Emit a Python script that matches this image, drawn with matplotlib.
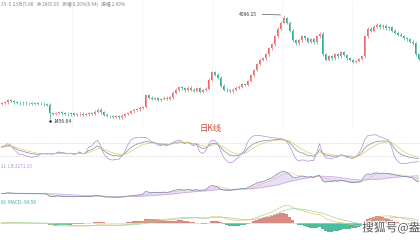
import numpy as np
import pandas as pd
import matplotlib
matplotlib.use("Agg")
from matplotlib import pyplot as plt
from matplotlib import patheffects

plt.rcParams["font.family"] = ["Noto Sans CJK SC", "DejaVu Sans"]

# daily closes (one candle per ~3 px)
closes = [
    1860, 1880, 1935, 1910, 1880, 1870, 1855, 1870, 1850, 1860, 1840, 1850, 1835, 1845, 1830,
    1820, 1600,
    1580, 1610, 1630, 1600, 1590, 1575, 1600, 1560, 1570, 1585, 1560, 1575, 1600, 1590, 1640, 1690, 1620,
    1560, 1530, 1520, 1510, 1525, 1500,
    1540, 1580, 1610, 1650, 1690, 1700, 1740, 1760,
    2060,
    2000, 1960, 1990, 1940, 1960, 2000, 1970, 2010,
    2120, 2200, 2260,
    2230, 2180, 2250, 2200, 2170, 2240, 2150, 2190, 2220,
    2450, 2640, 2580, 2500,
    2300, 2200, 2180, 2160, 2200,
    2250, 2280, 2340, 2320, 2420,
    2560, 2700, 2850, 2950,
    3000, 3100, 3250, 3350,
    3550, 3750, 3900, 4020,
    3900, 3700, 3450, 3380, 3450, 3550, 3500, 3420, 3480, 3400, 3550, 3620,
    3100, 2950, 3050, 3000, 3100, 3050, 3150, 3080, 3000, 2950, 2900, 2930, 2980, 3050,
    3550, 3750, 3700, 3800, 3850, 3780, 3820, 3760, 3780,
    3700, 3650, 3600, 3560, 3500, 3480, 3420, 3380, 3100, 2980,
]
first_open = 1840
low_mark = (16, 1456.64)
high_mark = (94, 4096.15)

header = "35 -5.23万(5.88   收 2665.05   涨幅 0.26%(6.64)   振幅 2.69%"
boll_label = "11  LB:2271.33"
macd_label = "81  MACD:-99.56"
title = "日K线"
watermark = "搜狐号@盎司"

up_color = "#e46c6c"
down_color = "#35ab91"

close = pd.Series(closes, dtype=float)
opens = close.shift(1).fillna(first_open)
highs = np.maximum(opens, close) + 35
lows = np.minimum(opens, close) - 35
highs[high_mark[0]] = high_mark[1]
lows[low_mark[0]] = low_mark[1]
n = len(close)
x = np.arange(n)

fig = plt.figure(figsize=(4.2, 2.4), dpi=100)
H = 240.0


def panel(top, bottom):
    ax = fig.add_axes([0, 1 - bottom / H, 1, (bottom - top) / H])
    ax.set_xlim(-0.5, n - 0.5)
    ax.axis("off")
    return ax


# main candle panel
ax = panel(0, 128)
ax.set_ylim(1226, 4477)
for xv in np.linspace(0, n, 7)[1:-1]:
    ax.axvline(xv, color="#f2f2f2", lw=0.5, zorder=0)
colors = np.where(close >= opens, up_color, down_color)
ax.vlines(x, lows, highs, colors=colors, lw=0.5)
ax.bar(x, (close - opens).abs().clip(lower=8), bottom=np.minimum(opens, close),
       width=0.6, color=colors, linewidth=0)
ax.annotate(f"{high_mark[1]:.2f}", xy=(high_mark[0], high_mark[1]),
            xytext=(high_mark[0] - 12, high_mark[1] + 20), fontsize=3.6,
            color="#333333", ha="center", va="center",
            arrowprops=dict(arrowstyle="-", color="#333333", lw=0.4))
ax.plot([low_mark[0]], [low_mark[1] - 60], marker="s", ms=0.8, color="#333333")
ax.text(low_mark[0] + 1.2, low_mark[1] - 60, f"{low_mark[1]:.2f}", fontsize=3.6,
        color="#333333", va="center")
fig.text(0.002, 1 - 4 / H, header, fontsize=3.4, color="#888888", va="center")

# KDJ panel
low9 = pd.Series(lows).rolling(9, min_periods=1).min()
high9 = pd.Series(highs).rolling(9, min_periods=1).max()
rsv = (close - low9) / (high9 - low9) * 100
k = rsv.ewm(com=2, adjust=False).mean()
d = k.ewm(com=2, adjust=False).mean()
j = 3 * k - 2 * d
ax2 = panel(134, 166)
ax2.set_ylim(-26, 122)
for lvl in (80, 20):
    ax2.axhline(lvl, color="#c4c4c4", lw=0.4, ls=(0, (2, 2)))
ax2.plot(x, j, color="#b58ad6", lw=0.5)
ax2.plot(x, k, color="#8a8a9a", lw=0.5)
ax2.plot(x, d, color="#cfd27a", lw=0.5)
fig.text(211 / 420, 1 - 129 / H, title, fontsize=6, color="#d04a3a", ha="center", va="center")

# band panel
ma = close.rolling(20, min_periods=1).mean()
ma5 = close.rolling(5, min_periods=1).mean()
ax3 = panel(166, 202)
ax3.set_ylim(1050, 4500)
ax3.fill_between(x, close, ma, color="#e8def6", lw=0)
ax3.plot(x, ma, color="#c9a2e0", lw=0.5)
ax3.plot(x, ma5, color="#f2b9a0", lw=0.4)
ax3.plot(x, close, color="#6a86a8", lw=0.5)
fig.text(0.002, 1 - 166 / H, boll_label, fontsize=3.4, color="#b98fd0", va="center")

# MACD panel
dif = close.ewm(span=12, adjust=False).mean() - close.ewm(span=26, adjust=False).mean()
dea = dif.ewm(span=9, adjust=False).mean()
hist = 2 * (dif - dea)
ax4 = panel(202, 240)
ax4.set_ylim(-420, 520)
ax4.bar(x, hist, width=0.8, color=np.where(hist >= 0, "#d98a84", "#4dbb9c"), linewidth=0)
ax4.plot(x, dif, color="#e6c26a", lw=0.5)
ax4.plot(x, dea, color="#93d7a9", lw=0.5)
ax4.axhline(0, color="#cfcfcf", lw=0.4)
fig.text(0.002, 1 - 203 / H, macd_label, fontsize=3.4, color="#40a8b0", va="center")

fig.text(362 / 420, 1 - 228 / H, watermark, fontsize=8.5, color="#555555", va="center",
         path_effects=[patheffects.withStroke(linewidth=1.5, foreground="white")])

fig.savefig("out.png", dpi=100)
